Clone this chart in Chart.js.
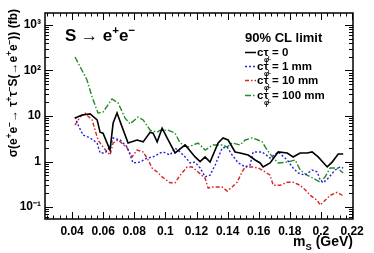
<!DOCTYPE html>
<html>
<head>
<meta charset="utf-8">
<script src="https://cdn.jsdelivr.net/npm/chart.js@4"></script>
<style>
  html, body { margin: 0; padding: 0; background: #fff; }
</style>
</head>
<body>
<div style="width:374px;height:253px"><canvas id="limitChart" width="374" height="253"></canvas></div>
<script>
//limits, m_S in GeV, sigma in fb
const massZero = [0.0419,0.0464,0.0516,0.0561,0.0580,0.0599,0.0644,0.0664,0.0689,0.0722,0.0760,0.0818,0.0857,0.0902,0.0921,0.0947,0.0979,0.1011,0.1062,0.1127,0.1191,0.1223,0.1255,0.1287,0.1339,0.1371,0.1403,0.1448,0.1480,0.1532,0.1577,0.1609,0.1628,0.1673,0.1725,0.1783,0.1821,0.1866,0.1911,0.1943,0.1982,0.2040,0.2072,0.2111,0.2143];
const limitZero = [9.0,10.5,11.1,8.2,4.4,4.2,1.79,7.0,11.6,5.7,2.55,2.97,2.7,4.4,4.2,2.7,5.4,3.3,1.54,2.31,1.26,0.99,1.26,0.97,2.55,3.3,2.97,1.62,1.54,1.39,1.08,0.93,0.76,0.93,1.62,1.54,1.26,1.54,1.54,1.62,1.26,0.76,0.97,1.46,1.46];

const massOne = [0.0419,0.0439,0.0471,0.0516,0.0561,0.0580,0.0612,0.0644,0.0664,0.0709,0.0754,0.0792,0.0837,0.0882,0.0921,0.0966,0.0985,0.1030,0.1062,0.1095,0.1127,0.1159,0.1191,0.1223,0.1255,0.1287,0.1320,0.1365,0.1397,0.1429,0.1468,0.1513,0.1545,0.1564,0.1622,0.1673,0.1725,0.1783,0.1821,0.1853,0.1898,0.1943,0.1976,0.1995,0.2014,0.2046,0.2091,0.2123,0.2143];
const limitOne = [9.5,6.3,3.8,3.3,2.55,1.54,1.54,2.08,3.3,2.97,2.08,0.93,0.97,1.19,1.26,1.54,1.62,1.39,1.98,1.62,1.26,0.93,0.97,0.72,0.46,0.50,0.84,1.98,2.08,1.39,0.93,0.76,0.84,1.62,1.62,1.19,1.62,1.08,0.72,0.56,0.50,0.65,0.59,0.39,0.34,0.43,0.65,0.76,0.72];

const massTen = [0.0419,0.0451,0.0484,0.0529,0.0548,0.0567,0.0599,0.0644,0.0664,0.0696,0.0754,0.0786,0.0818,0.0857,0.0889,0.0914,0.0947,0.0979,0.1030,0.1062,0.1095,0.1140,0.1172,0.1210,0.1255,0.1275,0.1307,0.1365,0.1397,0.1429,0.1461,0.1493,0.1513,0.1558,0.1596,0.1622,0.1673,0.1693,0.1738,0.1783,0.1821,0.1866,0.1898,0.1931,0.1976,0.1995,0.2027,0.2059,0.2104,0.2143];
const limitTen = [6.3,9.5,11.5,8.2,4.9,2.97,2.08,1.39,2.55,2.97,1.98,1.26,1.79,1.62,1.08,0.72,0.59,0.46,0.34,0.34,0.50,0.76,0.76,0.59,0.43,0.26,0.275,0.275,0.225,0.275,0.35,0.59,0.76,0.76,0.72,0.65,0.50,0.30,0.30,0.35,0.35,0.30,0.24,0.18,0.14,0.11,0.14,0.18,0.21,0.175];

const massHundred = [0.0419,0.0496,0.0529,0.0567,0.0599,0.0657,0.0696,0.0741,0.0773,0.0824,0.0857,0.0902,0.0947,0.0966,0.1017,0.1062,0.1095,0.1146,0.1210,0.1255,0.1307,0.1365,0.1397,0.1429,0.1480,0.1513,0.1558,0.1596,0.1622,0.1654,0.1693,0.1725,0.1783,0.1834,0.1866,0.1911,0.1950,0.1995,0.2027,0.2059,0.2104,0.2143];
const limitHundred = [198,62,26,11.6,12.2,23.7,19.3,9.0,6.7,9.5,8.2,4.9,4.4,4.9,4.9,4.2,2.55,2.08,2.55,1.79,2.31,2.31,2.08,2.55,2.31,2.97,3.3,2.97,2.7,1.79,1.19,0.93,0.97,1.08,0.65,0.50,0.43,0.35,0.46,0.72,0.72,0.56];

const legendLabels = ['= 0', '= 1 mm', '= 10 mm', '= 100 mm'];
const massTicks = [0.04, 0.06, 0.08, 0.1, 0.12, 0.14, 0.16, 0.18, 0.2, 0.22];
const sigmaTicks = [0.1, 1, 10, 100, 1000];
const sigmaTickLabels = ['10\u207B\u00B9', '1', '10', '10\u00B2', '10\u00B3'];

const FONT = '"Liberation Sans", Arial, Helvetica, sans-serif';
const lineColors = ['#000000', '#2424d8', '#d82424', '#228c22'];
const lineDashes = [[], [2, 2], [4, 2, 1.5, 2], [6, 2, 1.5, 2]];

function toPoints(xs, ys) {
    return xs.map((m, i) => ({x: m, y: ys[i]}));
}

//text with super/subscripts: parts = [[text, shift]], shift 1 = sup, -1 = sub
function richWidth(ctx, parts, size) {
    let w = 0;
    parts.forEach(p => {
        ctx.font = 'bold ' + (p[1] ? size * 0.68 : size) + 'px ' + FONT;
        w += ctx.measureText(p[0]).width;
    });
    return w;
}
function richText(ctx, parts, x, y, size) {
    parts.forEach(p => {
        ctx.font = 'bold ' + (p[1] ? size * 0.68 : size) + 'px ' + FONT;
        let dy = p[1] === 1 ? -size * 0.4 : (p[1] === -1 ? size * 0.25 : 0);
        ctx.fillText(p[0], x, y + dy);
        x += ctx.measureText(p[0]).width;
    });
    return x;
}

const rootStyle = {
    id: 'rootStyle',
    afterDraw(chart) {
        const ctx = chart.ctx;
        const a = chart.chartArea;
        const xs = chart.scales.x;
        const ys = chart.scales.y;
        ctx.save();
        ctx.strokeStyle = '#000';
        ctx.lineWidth = 1;
        ctx.setLineDash([]);
        ctx.beginPath();
        //ticks on x, pointing inside, bottom and top
        for (let k = Math.ceil(xs.min / 0.004); k * 0.004 <= xs.max + 1e-9; k++) {
            const px = Math.round(xs.getPixelForValue(k * 0.004)) + 0.5;
            const len = (k % 5 === 0) ? 7 : 3.5;
            ctx.moveTo(px, a.bottom); ctx.lineTo(px, a.bottom - len);
            ctx.moveTo(px, a.top); ctx.lineTo(px, a.top + len);
        }
        //log ticks on y, left and right
        for (let d = -2; d <= 3; d++) {
            for (let m = 1; m <= 9; m++) {
                const v = m * Math.pow(10, d);
                if (v < ys.min || v > ys.max) continue;
                const py = Math.round(ys.getPixelForValue(v)) + 0.5;
                const len = (m === 1) ? 8 : 4;
                ctx.moveTo(a.left, py); ctx.lineTo(a.left + len, py);
                ctx.moveTo(a.right, py); ctx.lineTo(a.right - len, py);
            }
        }
        ctx.stroke();
        ctx.lineWidth = 1.5;
        ctx.strokeRect(a.left, a.top, a.right - a.left, a.bottom - a.top);

        ctx.fillStyle = '#000';
        ctx.textBaseline = 'alphabetic';
        ctx.textAlign = 'left';

        //decay label
        richText(ctx, [['S \u2192 e', 0], ['+', 1], ['e', 0], ['\u2212', 1]], 65, 41, 17);

        //legend
        ctx.font = 'bold 13px ' + FONT;
        ctx.fillText('90% CL limit', 245, 42);
        const rows = [52, 66, 80, 95];
        rows.forEach((ry, i) => {
            ctx.strokeStyle = lineColors[i];
            ctx.lineWidth = 1.5;
            ctx.setLineDash(lineDashes[i]);
            ctx.beginPath();
            ctx.moveTo(245, ry + 0.5); ctx.lineTo(256, ry + 0.5);
            ctx.stroke();
            ctx.setLineDash([]);
            ctx.font = 'bold 11.5px ' + FONT;
            ctx.fillText('c\u03C4', 257, ry + 4);
            ctx.font = 'bold 7px ' + FONT;
            ctx.fillText('\u03C6', 264, ry + 10);
            ctx.font = 'bold 5px ' + FONT;
            ctx.fillText('L', 268, ry + 8);
            ctx.font = 'bold 11.5px ' + FONT;
            ctx.fillText(legendLabels[i], 272, ry + 4);
        });

        //x title
        const xParts = [['m', 0], ['S', -1], [' (GeV)', 0]];
        const xw = richWidth(ctx, xParts, 14);
        richText(ctx, xParts, a.right - xw, 246, 14);

        //y title, rotated, aligned to top of axis
        const yParts = [['\u03C3(e', 0], ['+', 1], ['e', 0], ['\u2212', 1], ['\u2192 \u03C4', 0], ['+', 1], ['\u03C4', 0], ['\u2212', 1],
            ['S(\u2192e', 0], ['+', 1], ['e', 0], ['\u2212', 1], [')) (fb)', 0]];
        const yw = richWidth(ctx, yParts, 12);
        ctx.translate(17, 9);
        ctx.rotate(-Math.PI / 2);
        richText(ctx, yParts, -yw, 0, 12);
        ctx.restore();
    }
};

const seriesMass = [massZero, massOne, massTen, massHundred];
const seriesLimit = [limitZero, limitOne, limitTen, limitHundred];
const datasets = seriesMass.map((xs, i) => ({
    data: toPoints(xs, seriesLimit[i]),
    borderColor: lineColors[i],
    borderWidth: i === 0 ? 1.6 : 1.4,
    borderDash: lineDashes[i],
    pointRadius: 0,
    tension: 0,
    fill: false,
    order: i
}));

const limitChart = new Chart(document.querySelector('#limitChart').getContext('2d'), {
    type: 'line',
    data: {datasets: datasets},
    options: {
        responsive: false,
        animation: false,
        devicePixelRatio: 1,
        layout: {padding: {top: 13, right: 21, left: 0, bottom: 0}},
        plugins: {legend: {display: false}, tooltip: {enabled: false}},
        scales: {
            x: {
                type: 'linear',
                min: 0.0226,
                max: 0.2206,
                grid: {display: false, drawTicks: false},
                border: {display: false},
                afterFit: s => { s.height = 34; },
                afterBuildTicks: s => { s.ticks = massTicks.map(v => ({value: v})); },
                ticks: {
                    autoSkip: false,
                    maxRotation: 0,
                    padding: 5,
                    color: '#000',
                    font: {family: FONT, size: 12, weight: 'bold'},
                    callback: v => String(+v.toFixed(2))
                }
            },
            y: {
                type: 'logarithmic',
                min: 0.0545,
                max: 1835,
                grid: {display: false, drawTicks: false},
                border: {display: false},
                afterFit: s => { s.width = 45; },
                afterBuildTicks: s => { s.ticks = sigmaTicks.map(v => ({value: v})); },
                ticks: {
                    autoSkip: false,
                    padding: 4,
                    color: '#000',
                    font: {family: FONT, size: 12, weight: 'bold'},
                    callback: v => sigmaTickLabels[sigmaTicks.indexOf(v)]
                }
            }
        }
    },
    plugins: [rootStyle]
});
</script>
</body>
</html>
